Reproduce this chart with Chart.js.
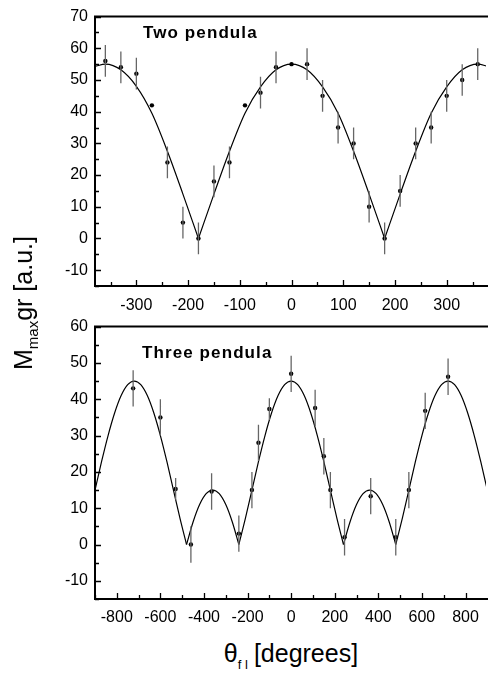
<!DOCTYPE html>
<html>
<head>
<meta charset="utf-8">
<script src="https://cdn.jsdelivr.net/npm/chart.js@4.4.1/dist/chart.umd.min.js"></script>
<style>
  body { margin: 0; background: #fff; }
  #wrap { position: relative; width: 490px; height: 673px; overflow: hidden; font-family: 'Liberation Sans', Arial, sans-serif; color: #000; }
  canvas { position: absolute; left: 0; }
  .panel { position: absolute; font-weight: bold; font-size: 17px; letter-spacing: 1.1px; line-height: 17px; white-space: nowrap; }
  #ytitle { position: absolute; left: 25px; top: 303px; transform: translate(-50%, -50%) rotate(-90deg); font-size: 25px; line-height: 25px; white-space: nowrap; }
  #ytitle sub { font-size: 15px; vertical-align: baseline; position: relative; top: 6px; }
  #xtitle { position: absolute; left: 291px; top: 641px; transform: translateX(-50%); font-size: 25px; line-height: 25px; white-space: nowrap; }
  #xtitle sub { font-size: 13px; vertical-align: baseline; position: relative; top: 7px; margin-right: 6px; }
</style>
</head>
<body>
<div id="wrap">
  <canvas id="twoChart" width="490" height="310" style="top:0"></canvas>
  <canvas id="threeChart" width="490" height="313" style="top:310px"></canvas>
  <div class="panel" style="left:143px; top:24px">Two pendula</div>
  <div class="panel" style="left:142px; top:344px">Three pendula</div>
  <div id="ytitle">M<sub>max</sub>gr [a.u.]</div>
  <div id="xtitle">θ<sub>f l</sub>[degrees]</div>
</div>
<script>
// measured points, two pendula
const twoX = [-360, -330, -300, -270, -240, -210, -180, -150, -120, -90, -60, -30, 0, 30, 60, 90, 120, 150, 180, 210, 240, 270, 300, 330, 360];
const twoY = [56, 54, 52, 42, 24, 5, 0, 18, 24, 42, 46, 54, 55, 55, 45, 35, 30, 10, 0, 15, 30, 35, 45, 50, 55];
const twoErr = [5, 5, 5, 0, 5, 5, 5, 5, 5, 0, 5, 5, 0, 5, 5, 5, 5, 5, 5, 5, 5, 5, 5, 5, 5];

// fitted curve, two pendula
const fitTwoX = [-380, -360, -330, -300, -270, -240, -210, -180, -150, -120, -90, -60, -30, 0, 30, 60, 90, 120, 150, 180, 210, 240, 270, 300, 330, 360, 380];
const fitTwoY = [54.3, 55, 53.2, 48, 39.5, 27.5, 14, 0, 14, 27.5, 39.5, 47.8, 53.2, 55, 53.2, 47.8, 39.5, 27.5, 14, 0, 14, 27.5, 39.5, 47.8, 53.2, 55, 54.3];

// measured points, three pendula
const threeX = [-725, -600, -530, -460, -365, -240, -180, -150, -100, 0, 110, 150, 180, 245, 365, 480, 540, 615, 720];
const threeY = [43, 35, 15.3, 0, 14.6, 3, 15, 28, 37.3, 47, 37.6, 24.3, 15, 2, 13.3, 2, 15, 36.8, 46.2];
const threeErr = [5, 5, 3, 5, 5, 5, 5, 5, 3, 5, 5, 5, 5, 5, 5, 5, 5, 5, 5];

// fitted curve, three pendula
const fitThreeX = [-900, -870, -840, -810, -780, -750, -720, -690, -660, -630, -600, -570, -540, -510, -480,
  -450, -420, -390, -360, -330, -300, -270, -240, -210, -180, -150, -120, -90, -60, -30, 0,
  30, 60, 90, 120, 150, 180, 210, 240, 270, 300, 330, 360, 390, 420, 450, 480,
  510, 540, 570, 600, 630, 660, 690, 720, 750, 780, 810, 840, 870, 900];
const fitThreeY = [15, 22.8, 30, 36.2, 41, 44, 45, 44, 41, 36.2, 30, 22.8, 15, 7.2, 0,
  6.2, 11, 14, 15, 14, 11, 6.2, 0, 7.2, 15, 22.8, 30, 36.2, 41, 44, 45,
  44, 41, 36.2, 30, 22.8, 15, 7.2, 0, 6.2, 11, 14, 15, 14, 11, 6.2, 0,
  7.2, 15, 22.8, 30, 36.2, 41, 44, 45, 44, 41, 36.2, 30, 22.8, 15];

// axis ticks
const twoXTicks = [-300, -200, -100, 0, 100, 200, 300];
const twoXMinor = [-350, -250, -150, -50, 50, 150, 250, 350];
const twoYTicks = [-10, 0, 10, 20, 30, 40, 50, 60, 70];
const twoYMinor = [-15, -5, 5, 15, 25, 35, 45, 55, 65];
const threeXTicks = [-800, -600, -400, -200, 0, 200, 400, 600, 800];
const threeXMinor = [-900, -700, -500, -300, -100, 100, 300, 500, 700];
const threeYTicks = [-10, 0, 10, 20, 30, 40, 50, 60];
const threeYMinor = [-15, -5, 5, 15, 25, 35, 45, 55];

const tickFont = { family: "'Liberation Sans', Arial, sans-serif", size: 16 };

// split the fit curve at its cusps (zero values), so each arch is smoothed on its own
function arches(xs, ys) {
    const out = [];
    let cur = [];
    xs.forEach((x, i) => {
        cur.push({ x: x, y: ys[i] });
        if (ys[i] === 0 && cur.length > 1) {
            out.push(cur);
            cur = [{ x: x, y: 0 }];
        }
    });
    if (cur.length > 1) out.push(cur);
    return out;
}

const framePlugin = {
    id: 'frame',
    afterDraw(chart, args, opts) {
        const { ctx, chartArea: a, scales: { x, y } } = chart;
        ctx.save();
        ctx.strokeStyle = '#000';
        ctx.lineWidth = 2;
        ctx.beginPath();
        ctx.moveTo(a.right + 2, a.top);
        ctx.lineTo(a.left, a.top);
        ctx.lineTo(a.left, a.bottom);
        ctx.lineTo(a.right + 2, a.bottom);
        ctx.stroke();
        ctx.lineWidth = 1.3;
        ctx.beginPath();
        const tick = (v, len, vert) => {
            if (vert) {
                const px = Math.round(x.getPixelForValue(v)) + 0.5;
                ctx.moveTo(px, a.bottom);
                ctx.lineTo(px, a.bottom - len);
            } else {
                const py = Math.round(y.getPixelForValue(v)) + 0.5;
                ctx.moveTo(a.left, py);
                ctx.lineTo(a.left + len, py);
            }
        };
        opts.xMajor.forEach(v => tick(v, 6, true));
        opts.xMinor.forEach(v => tick(v, 4, true));
        opts.yMajor.forEach(v => tick(v, 6, false));
        opts.yMinor.forEach(v => tick(v, 4, false));
        ctx.stroke();
        ctx.restore();
    }
};

const errorBarPlugin = {
    id: 'errbars',
    afterDatasetsDraw(chart, args, opts) {
        const { ctx, chartArea: a, scales: { x, y } } = chart;
        const ds = chart.data.datasets[0];
        ctx.save();
        ctx.beginPath();
        ctx.rect(a.left, a.top, a.right - a.left, a.bottom - a.top);
        ctx.clip();
        ctx.strokeStyle = '#666';
        ctx.lineWidth = 1.3;
        ctx.beginPath();
        ds.data.forEach((p, i) => {
            const e = opts.err[i];
            if (!e) return;
            const px = x.getPixelForValue(p.x);
            ctx.moveTo(px, y.getPixelForValue(p.y - e));
            ctx.lineTo(px, y.getPixelForValue(p.y + e));
        });
        ctx.stroke();
        ctx.restore();
    }
};

function makeChart(id, cfg) {
    const points = cfg.xs.map((x, i) => ({ x: x, y: cfg.ys[i] }));
    const curves = arches(cfg.fitX, cfg.fitY).map(seg => ({
        data: seg,
        showLine: true,
        borderColor: '#000',
        borderWidth: 1.2,
        pointRadius: 0,
        cubicInterpolationMode: 'monotone'
    }));
    return new Chart(document.getElementById(id), {
        type: 'scatter',
        data: {
            datasets: [{
                data: points,
                pointRadius: 2.2,
                pointBackgroundColor: '#000',
                pointBorderWidth: 0
            }].concat(curves)
        },
        options: {
            responsive: false,
            animation: false,
            devicePixelRatio: 1,
            layout: { padding: { top: cfg.padTop, right: 0, left: 0, bottom: 0 } },
            plugins: {
                legend: { display: false },
                tooltip: { enabled: false },
                frame: { xMajor: cfg.xTicks, xMinor: cfg.xMinor, yMajor: cfg.yTicks, yMinor: cfg.yMinor },
                errbars: { err: cfg.err }
            },
            scales: {
                x: {
                    type: 'linear',
                    min: cfg.xMin,
                    max: cfg.xMax,
                    afterFit: s => { s.height = 24; },
                    afterBuildTicks: s => { s.ticks = cfg.xTicks.map(v => ({ value: v })); },
                    ticks: { font: tickFont, color: '#000', padding: cfg.xPad, maxRotation: 0, autoSkip: false },
                    grid: { display: false, drawTicks: false },
                    border: { display: false }
                },
                y: {
                    type: 'linear',
                    min: cfg.yMin,
                    max: cfg.yMax,
                    afterFit: s => { s.width = 95; },
                    afterBuildTicks: s => { s.ticks = cfg.yTicks.map(v => ({ value: v })); },
                    ticks: { font: tickFont, color: '#000', padding: 7 },
                    grid: { display: false, drawTicks: false },
                    border: { display: false }
                }
            }
        },
        plugins: [framePlugin, errorBarPlugin]
    });
}

makeChart('twoChart', {
    xs: twoX, ys: twoY, err: twoErr, fitX: fitTwoX, fitY: fitTwoY,
    xTicks: twoXTicks, xMinor: twoXMinor, yTicks: twoYTicks, yMinor: twoYMinor,
    xMin: -380, xMax: 376, yMin: -15, yMax: 70, padTop: 13, xPad: 10
});

makeChart('threeChart', {
    xs: threeX, ys: threeY, err: threeErr, fitX: fitThreeX, fitY: fitThreeY,
    xTicks: threeXTicks, xMinor: threeXMinor, yTicks: threeYTicks, yMinor: threeYMinor,
    xMin: -900, xMax: 894, yMin: -15, yMax: 60, padTop: 16, xPad: 9
});
</script>
</body>
</html>
